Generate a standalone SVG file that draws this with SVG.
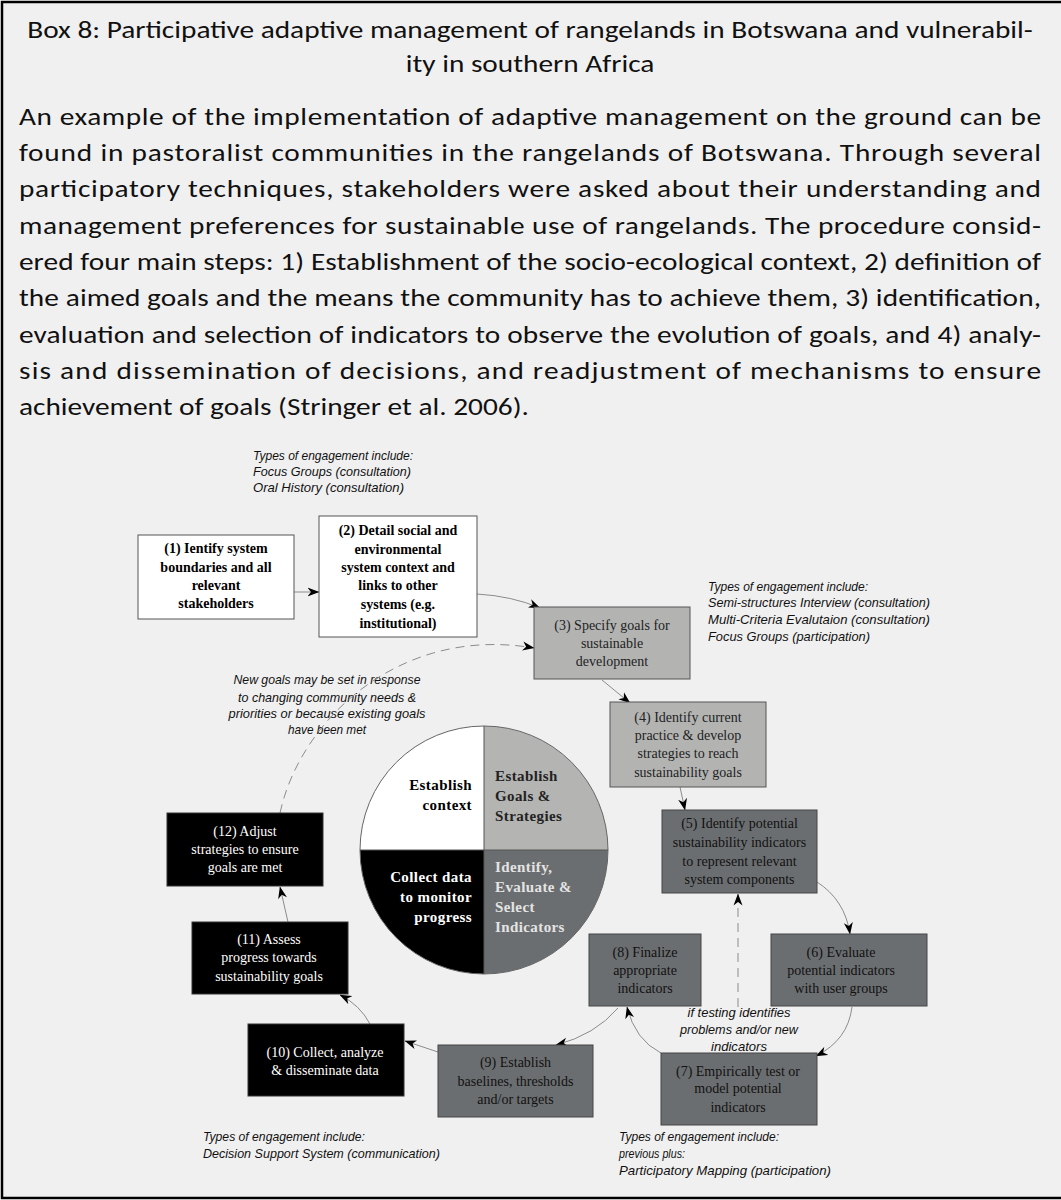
<svg xmlns="http://www.w3.org/2000/svg" width="1061" height="1200" viewBox="0 0 1061 1200">
<defs>
<marker id="ah" markerUnits="userSpaceOnUse" markerWidth="12" markerHeight="10" viewBox="0 0 12 10" refX="11.5" refY="5" orient="auto">
<path d="M0,0.5 L12,5 L0,9.5 L3.5,5 Z" fill="#000"/>
</marker>
<style>
.hd{font-family:Carlito,'Open Sans',sans-serif;font-size:25.5px;fill:#111}
.note{font-family:'Liberation Sans',Arial,sans-serif;font-style:italic;font-size:13px;fill:#111}
.t1{font-family:'Liberation Serif','Times New Roman',serif;font-size:14px;font-weight:bold;fill:#000;text-anchor:middle}
.t3{font-family:'Liberation Serif','Times New Roman',serif;font-size:14px;fill:#222;text-anchor:middle}
.t5{font-family:'Liberation Serif','Times New Roman',serif;font-size:14px;fill:#111;text-anchor:middle}
.t10{font-family:'Liberation Serif','Times New Roman',serif;font-size:14px;fill:#fff;text-anchor:middle}
.q{font-family:'Liberation Serif','Times New Roman',serif;font-size:15px;font-weight:bold;letter-spacing:0.4px}
.b1{fill:#fff;stroke:#555;stroke-width:1}
.b3{fill:#b3b4b2;stroke:#555;stroke-width:1}
.b5{fill:#6b6e70;stroke:#444;stroke-width:1}
.b10{fill:#000;stroke:#333;stroke-width:1}
.c{fill:none;stroke:#8c8c8c;stroke-width:1;marker-end:url(#ah)}
.d{fill:none;stroke:#8c8c8c;stroke-width:1;stroke-dasharray:9 6;marker-end:url(#ah)}
</style>
</defs>
<rect x="0" y="0" width="1061" height="1200" fill="#fff"/>
<rect x="2" y="2" width="1070" height="1196" fill="#f0f0f0" stroke="#000" stroke-width="2.5"/>

<g id="header" class="hd" transform="scale(1.15,1)">
<text x="460.9" y="38" text-anchor="middle">Box 8: Participative adaptive management of rangelands in Botswana and vulnerabil-</text>
<text x="460.9" y="72" text-anchor="middle">ity in southern Africa</text>
</g>

<g id="paragraph" class="hd" transform="scale(1.15,1)">
<text x="16.5" y="125" textLength="888.7" lengthAdjust="spacing">An example of the implementation of adaptive management on the ground can be</text>
<text x="16.5" y="161" textLength="888.7" lengthAdjust="spacing">found in pastoralist communities in the rangelands of Botswana. Through several</text>
<text x="16.5" y="197.5" textLength="888.7" lengthAdjust="spacing">participatory techniques, stakeholders were asked about their understanding and</text>
<text x="16.5" y="234" textLength="888.7" lengthAdjust="spacing">management preferences for sustainable use of rangelands. The procedure consid-</text>
<text x="16.5" y="270" textLength="888.7" lengthAdjust="spacing">ered four main steps: 1) Establishment of the socio-ecological context, 2) definition of</text>
<text x="16.5" y="306.5" textLength="888.7" lengthAdjust="spacing">the aimed goals and the means the community has to achieve them, 3) identification,</text>
<text x="16.5" y="343" textLength="888.7" lengthAdjust="spacing">evaluation and selection of indicators to observe the evolution of goals, and 4) analy-</text>
<text x="16.5" y="379" textLength="888.7" lengthAdjust="spacing">sis and dissemination of decisions, and readjustment of mechanisms to ensure</text>
<text x="16.5" y="415">achievement of goals (Stringer et al. 2006).</text>
</g>

<g id="notes" class="note">
<text x="253" y="460" textLength="160" lengthAdjust="spacingAndGlyphs">Types of engagement include:</text>
<text x="253" y="476" textLength="158" lengthAdjust="spacingAndGlyphs">Focus Groups (consultation)</text>
<text x="253" y="492" textLength="151" lengthAdjust="spacingAndGlyphs">Oral History (consultation)</text>
<text x="708" y="591" textLength="160" lengthAdjust="spacingAndGlyphs">Types of engagement include:</text>
<text x="708" y="607" textLength="222" lengthAdjust="spacingAndGlyphs">Semi-structures Interview (consultation)</text>
<text x="708" y="624" textLength="222" lengthAdjust="spacingAndGlyphs">Multi-Criteria Evalutaion (consultation)</text>
<text x="708" y="641" textLength="162" lengthAdjust="spacingAndGlyphs">Focus Groups (participation)</text>
<text x="327" y="684" text-anchor="middle" textLength="187" lengthAdjust="spacingAndGlyphs">New goals may be set in response</text>
<text x="327" y="702" text-anchor="middle" textLength="178" lengthAdjust="spacingAndGlyphs">to changing community needs &amp;</text>
<text x="327" y="718" text-anchor="middle" textLength="197" lengthAdjust="spacingAndGlyphs">priorities or because existing goals</text>
<text x="327" y="734" text-anchor="middle" textLength="78" lengthAdjust="spacingAndGlyphs">have been met</text>
<text x="739" y="1017" text-anchor="middle" textLength="103" lengthAdjust="spacingAndGlyphs">if testing identifies</text>
<text x="739" y="1034" text-anchor="middle" textLength="118" lengthAdjust="spacingAndGlyphs">problems and/or new</text>
<text x="739" y="1051" text-anchor="middle" textLength="56" lengthAdjust="spacingAndGlyphs">indicators</text>
<text x="203" y="1141" textLength="162" lengthAdjust="spacingAndGlyphs">Types of engagement include:</text>
<text x="203" y="1158" textLength="237" lengthAdjust="spacingAndGlyphs">Decision Support System (communication)</text>
<text x="619" y="1141" textLength="160" lengthAdjust="spacingAndGlyphs">Types of engagement include:</text>
<text x="619" y="1158" textLength="66" lengthAdjust="spacingAndGlyphs">previous plus:</text>
<text x="619" y="1175" textLength="212" lengthAdjust="spacingAndGlyphs">Participatory Mapping (participation)</text>
</g>

<g id="connectors">
<path class="c" d="M294,592 L319,592"/>
<path class="c" d="M477,594 Q512,596 540,608"/>
<path class="c" d="M602,680 L630,703"/>
<path class="c" d="M680,787 L685,810"/>
<path class="c" d="M817,882 Q845,900 850,934"/>
<path class="c" d="M852,1007 Q848,1040 816,1056"/>
<path class="c" d="M661,1053 Q635,1040 627,1007"/>
<path class="c" d="M618,1008 Q595,1035 556,1045"/>
<path class="c" d="M438,1052 L405,1041"/>
<path class="c" d="M370,1024 Q360,1005 340,995"/>
<path class="c" d="M288,922 L280,887"/>
<path class="d" d="M280,813 C300,720 400,625 534,648"/>
<path class="d" d="M738,1007 L738,894"/>
</g>

<g id="circle">
<path d="M484,850 L360,850 A124,124 0 0 1 484,726 Z" fill="#ffffff"/>
<path d="M484,850 L484,726 A124,124 0 0 1 608,850 Z" fill="#b4b4b2"/>
<path d="M484,850 L608,850 A124,124 0 0 1 484,974 Z" fill="#6b6e70"/>
<path d="M484,850 L484,974 A124,124 0 0 1 360,850 Z" fill="#000"/>
<circle cx="484" cy="850" r="124" fill="none" stroke="#666" stroke-width="1"/>
<line x1="360" y1="850" x2="608" y2="850" stroke="#555" stroke-width="1"/>
<line x1="484" y1="726" x2="484" y2="974" stroke="#555" stroke-width="1"/>
<text class="q" x="472" y="790" text-anchor="end" fill="#000" font-size="14">Establish</text>
<text class="q" x="472" y="810" text-anchor="end" fill="#000" font-size="14">context</text>
<text class="q" x="495" y="781" fill="#222">Establish</text>
<text class="q" x="495" y="801" fill="#222">Goals &amp;</text>
<text class="q" x="495" y="821" fill="#222">Strategies</text>
<text class="q" x="472" y="882" text-anchor="end" fill="#fff">Collect data</text>
<text class="q" x="472" y="902" text-anchor="end" fill="#fff">to monitor</text>
<text class="q" x="472" y="922" text-anchor="end" fill="#fff">progress</text>
<text class="q" x="495" y="872" fill="#e4e4e4">Identify,</text>
<text class="q" x="495" y="892" fill="#e4e4e4">Evaluate &amp;</text>
<text class="q" x="495" y="912" fill="#e4e4e4">Select</text>
<text class="q" x="495" y="932" fill="#e4e4e4">Indicators</text>
</g>

<g id="n1"><rect class="b1" x="138" y="535" width="156" height="84"/>
<text class="t1" x="216" y="553">(1) Ientify system</text>
<text class="t1" x="216" y="572">boundaries and all</text>
<text class="t1" x="216" y="590">relevant</text>
<text class="t1" x="216" y="608">stakeholders</text></g>

<g id="n2"><rect class="b1" x="319" y="516" width="158" height="121"/>
<text class="t1" x="398" y="535">(2) Detail social and</text>
<text class="t1" x="398" y="554">environmental</text>
<text class="t1" x="398" y="572">system context and</text>
<text class="t1" x="398" y="590">links to other</text>
<text class="t1" x="398" y="609">systems (e.g.</text>
<text class="t1" x="398" y="628">institutional)</text></g>

<g id="n3"><rect class="b3" x="534" y="607" width="156" height="72"/>
<text class="t3" x="612" y="630">(3) Specify goals for</text>
<text class="t3" x="612" y="648">sustainable</text>
<text class="t3" x="612" y="666">development</text></g>

<g id="n4"><rect class="b3" x="610" y="702" width="156" height="85"/>
<text class="t3" x="688" y="722">(4) Identify current</text>
<text class="t3" x="688" y="740">practice &amp; develop</text>
<text class="t3" x="688" y="758">strategies to reach</text>
<text class="t3" x="688" y="777">sustainability goals</text></g>

<g id="n5"><rect class="b5" x="662" y="810" width="155" height="83"/>
<text class="t5" x="739.5" y="828">(5) Identify potential</text>
<text class="t5" x="739.5" y="847">sustainability indicators</text>
<text class="t5" x="739.5" y="866">to represent relevant</text>
<text class="t5" x="739.5" y="884">system components</text></g>

<g id="n6"><rect class="b5" x="771" y="934" width="156" height="72"/>
<text class="t5" x="841" y="957">(6) Evaluate</text>
<text class="t5" x="841" y="975">potential indicators</text>
<text class="t5" x="841" y="993">with user groups</text></g>

<g id="n7"><rect class="b5" x="661" y="1053" width="156" height="72"/>
<text class="t5" x="738" y="1076">(7) Empirically test or</text>
<text class="t5" x="738" y="1093">model potential</text>
<text class="t5" x="738" y="1112">indicators</text></g>

<g id="n8"><rect class="b5" x="589" y="934" width="112" height="72"/>
<text class="t5" x="645" y="957">(8) Finalize</text>
<text class="t5" x="645" y="975">appropriate</text>
<text class="t5" x="645" y="993">indicators</text></g>

<g id="n9"><rect class="b5" x="438" y="1045" width="155" height="72"/>
<text class="t5" x="515.5" y="1067">(9) Establish</text>
<text class="t5" x="515.5" y="1086">baselines, thresholds</text>
<text class="t5" x="515.5" y="1104">and/or targets</text></g>

<g id="n10"><rect class="b10" x="248" y="1024" width="156" height="72"/>
<text class="t10" x="325" y="1057">(10) Collect, analyze</text>
<text class="t10" x="325" y="1075">&amp; disseminate data</text></g>

<g id="n11"><rect class="b10" x="192" y="922" width="156" height="72"/>
<text class="t10" x="269" y="944">(11) Assess</text>
<text class="t10" x="269" y="962">progress towards</text>
<text class="t10" x="269" y="981">sustainability goals</text></g>

<g id="n12"><rect class="b10" x="167" y="813" width="156" height="73"/>
<text class="t10" x="245" y="836">(12) Adjust</text>
<text class="t10" x="245" y="854">strategies to ensure</text>
<text class="t10" x="245" y="872">goals are met</text></g>
</svg>
